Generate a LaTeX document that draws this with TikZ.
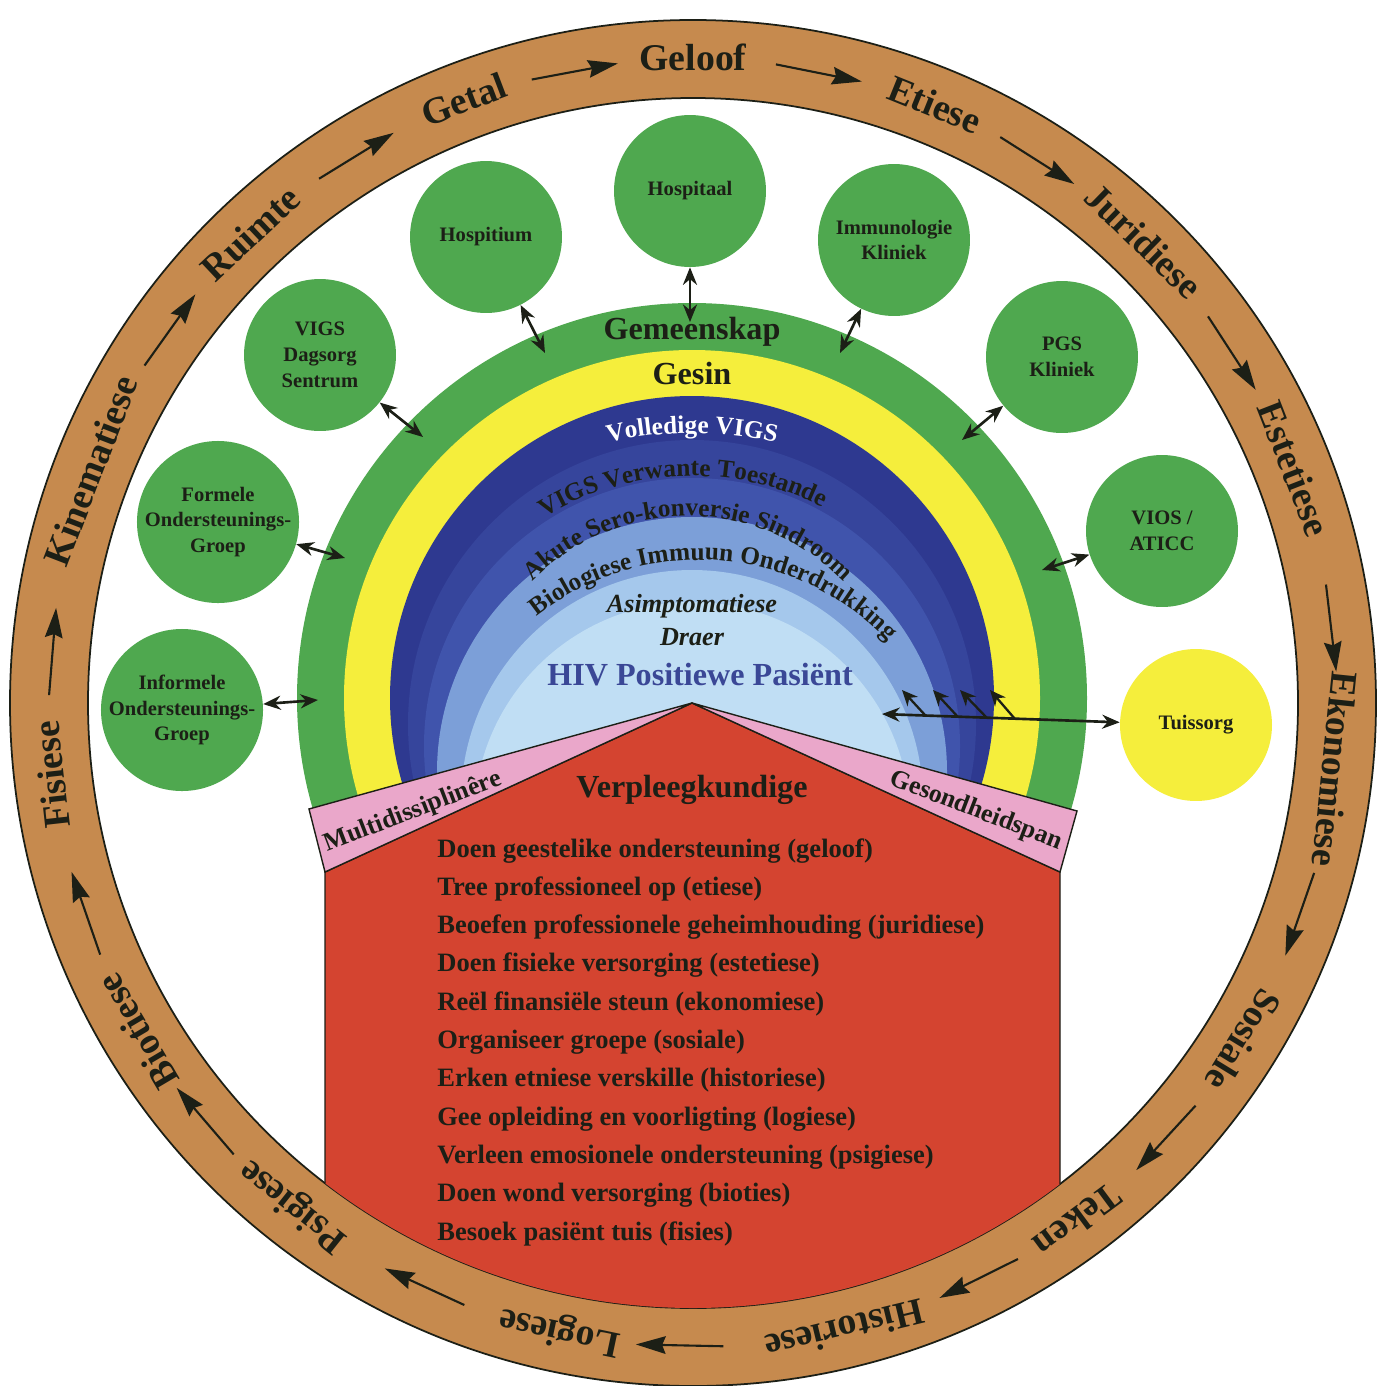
\documentclass[tikz,border=0pt]{standalone}
\usepackage{fontspec}
\setmainfont{Liberation Serif}
\usetikzlibrary{arrows.meta,calc,decorations.text}

\definecolor{ringbrown}{HTML}{C68A4E}
\definecolor{grn}{HTML}{4FA84F}
\definecolor{yel}{HTML}{F5EE3C}
\definecolor{navyA}{HTML}{2E3990}
\definecolor{navyB}{HTML}{36459C}
\definecolor{navyC}{HTML}{4054AC}
\definecolor{blueD}{HTML}{7C9FD8}
\definecolor{blueE}{HTML}{A5C8EC}
\definecolor{blueF}{HTML}{C0DEF4}
\definecolor{brick}{HTML}{D44430}
\definecolor{rosa}{HTML}{EAA7CA}
\definecolor{ink}{HTML}{1C1F16}
\definecolor{hivblue}{HTML}{3A4796}

\newcommand{\ringfont}{\fontsize{21.5}{24}\selectfont\bfseries}
\newcommand{\placefont}{\fontsize{11.7}{14.7}\selectfont\bfseries}
\newcommand{\bandfont}{\fontsize{18.3}{20}\selectfont\bfseries}
\newcommand{\arcfont}{\fontsize{14.4}{16}\selectfont\bfseries}
\newcommand{\taskfont}{\fontsize{15.1}{18}\selectfont\bfseries}
\newcommand{\rooffont}{\fontsize{14.7}{16}\selectfont\bfseries}

\begin{document}
\begin{tikzpicture}[x=0.02cm, y=0.02cm,
    place/.style={circle, fill=grn, minimum size=3.04cm, inner sep=0pt, align=center, font=\placefont, text=ink},
    link/.style={{Stealth[length=10pt,width=8pt]}-{Stealth[length=10pt,width=8pt]}, line width=1.5pt, draw=ink},
    flow/.style={-{Stealth[length=17pt,width=10pt,inset=2pt]}, line width=1.2pt, draw=ink},
    branch/.style={-{Stealth[length=9pt,width=8pt]}, line width=1.3pt, draw=ink},
    ringlabel/.style={font=\ringfont, text=ink, inner sep=0pt, text height=13pt, text depth=0pt},
    task/.style={anchor=base west, font=\taskfont, text=ink, inner sep=0pt},
    roof/.style={font=\rooffont, text=ink, inner sep=0pt},
  ]
  \useasboundingbox (0,0) rectangle (1379,-1386);
  \fill[white] (0,0) rectangle (1379,-1386);
  \coordinate (ctr) at (693,-703);
  \coordinate (ac) at (692,-698);

  % outer ring
  \fill[ringbrown, even odd rule] (ctr) circle[radius=683] (ctr) circle[radius=605];
  \draw[ink, line width=1pt] (ctr) circle[radius=683] (ctr) circle[radius=605];

  % rainbow arches
  \begin{scope}
    \clip (0,-810) rectangle (1379,0);
    \fill[grn] (ac) circle[radius=395];
    \fill[yel] (ac) circle[radius=348];
    \fill[navyA] (ac) circle[radius=302];
    \fill[navyB] (692,-724) circle[radius=284];
    \fill[navyC] (692,-746) circle[radius=268];
    \fill[blueD] (692,-772) circle[radius=255];
    \fill[blueE] (692,-801) circle[radius=231];
    \fill[blueF] (692,-820) circle[radius=218];
  \end{scope}

  % house
  \begin{scope}
    \clip (ctr) circle[radius=605];
    \filldraw[fill=brick, draw=ink, line width=0.8pt] (692,-703) -- (325,-872) -- (325,-1450) -- (1060,-1450) -- (1060,-872) -- cycle;
  \end{scope}
  \filldraw[fill=rosa, draw=ink, line width=0.8pt] (692,-703) -- (309,-809) -- (325,-872) -- cycle;
  \filldraw[fill=rosa, draw=ink, line width=0.8pt] (692,-703) -- (1077,-811) -- (1060,-872) -- cycle;

  % ring labels and arrows
  \foreach \a/\t in {186.4/Fisiese, 158.9/Kinematiese, 133.3/Ruimte, 110.8/Getal, 90/Geloof, 68/Etiese, 45.7/Juridiese, 21.3/Estetiese, -5.9/Ekonomiese, -31.5/Sosiale, -53.4/Teken, -76.4/Historiese, -102/Logiese, -128.5/Psigiese, -149.4/Biotiese}
    \node[ringlabel, rotate=\a-90] (lbl-\t) at ($(ctr)+(\a:644)$) {\t};
  \foreach \a [count=\i] in {175.4, 144.5, 121.6, 100.6, 78.7, 57.6, 33, 6.7, -19.2, -42.6, -63.6, -91.2, -114.7, -139.4, -160.9} {
    \coordinate (fa\i) at ($(ctr)+({\a+3.9}:644)$);
    \coordinate (fb\i) at ($(ctr)+({\a-3.9}:644)$);
    \draw[flow] (fa\i) -- (fb\i);
  }

  % band texts
  \node[font=\bandfont, text=ink] (gemeenskap) at (692,-332) {Gemeenskap};
  \node[font=\bandfont, text=ink] (gesin) at (692,-373) {Gesin};
  \path[decorate, decoration={text along path, text align=center, text={|\arcfont\color{white}|Volledige VIGS}}]
    ($(692,-805)+(120:372)$) arc[start angle=120, end angle=60, radius=372];
  \path[decorate, decoration={text along path, text align=center, text={|\arcfont\color{ink}|VIGS Verwante Toestande}}]
    ($(692,-761)+(137:285)$) arc[start angle=137, end angle=47, radius=285];
  \path[decorate, decoration={text along path, text align=center, text={|\arcfont\color{ink}|Akute Sero-konversie Sindroom}}]
    ($(688,-734)+(150:218)$) arc[start angle=150, end angle=30, radius=218];
  \path[decorate, decoration={text along path, text align=center, text={|\arcfont\color{ink}|Biologiese Immuun Onderdrukking}}]
    ($(699,-821)+(146:261)$) arc[start angle=146, end angle=26, radius=261];
  \node[font=\fontsize{14.9}{17}\selectfont\bfseries\itshape, text=ink] (asim) at (692,-606) {Asimptomatiese};
  \node[font=\fontsize{14.9}{17}\selectfont\bfseries\itshape, text=ink] (draer) at (692,-637) {Draer};
  \node[font=\bandfont, text=hivblue] (pasient) at (700,-675) {HIV Positiewe Pasiënt};

  % house texts
  \node[roof, rotate=21] (multi) at (413,-812) {Multidissiplinêre};
  \node[roof, rotate=-21] (gesond) at (976,-811) {Gesondheidspan};
  \node[font=\bandfont, text=ink] (verpleeg) at (692,-790) {Verpleegkundige};
  \foreach \t [count=\i] in {{Doen geestelike ondersteuning (geloof)}, {Tree professioneel op (etiese)}, {Beoefen professionele geheimhouding (juridiese)}, {Doen fisieke versorging (estetiese)}, {Reël finansiële steun (ekonomiese)}, {Organiseer groepe (sosiale)}, {Erken etniese verskille (historiese)}, {Gee opleiding en voorligting (logiese)}, {Verleen emosionele ondersteuning (psigiese)}, {Doen wond versorging (bioties)}, {Besoek pasiënt tuis (fisies)}}
    \node[task] (task\i) at (437,{-857-38.3*(\i-1)}) {\t};

  % care places
  \node[place] (hospitium) at (486,-237) {Hospitium};
  \node[place] (hospitaal) at (690,-191) {Hospitaal};
  \node[place] (immuno) at (894,-240) {Immunologie\\Kliniek};
  \node[place] (pgs) at (1062,-357) {PGS\\Kliniek};
  \node[place] (vios) at (1162,-531) {VIOS /\\ATICC};
  \node[place, fill=yel] (tuissorg) at (1196,-725) {Tuissorg};
  \node[place] (dagsorg) at (320,-355) {VIGS\\Dagsorg\\Sentrum};
  \node[place] (formele) at (218,-522) {Formele\\Ondersteunings-\\Groep};
  \node[place] (informele) at (182,-710) {Informele\\Ondersteunings-\\Groep};

  \foreach \n/\x/\y in {hospitium/545/353, hospitaal/690/322, immuno/840/353, pgs/962/440, vios/1042/570, dagsorg/423/437, formele/345/558, informele/318/700} {
    \coordinate (gm-\n) at (\x,-\y);
    \draw[link] (\n) -- (gm-\n);
  }

  % home care
  \coordinate (tz) at (882,-714);
  \draw[link] (tuissorg) -- (tz);
  \foreach \i/\sx/\sy/\tx/\ty in {1/925/715/902/690, 2/958/717/933/690, 3/987/718/960/690, 4/1015/719/990/690} {
    \coordinate (bs\i) at (\sx,-\sy);
    \coordinate (bt\i) at (\tx,-\ty);
    \draw[branch] (bs\i) -- (bt\i);
  }
\end{tikzpicture}
\end{document}
